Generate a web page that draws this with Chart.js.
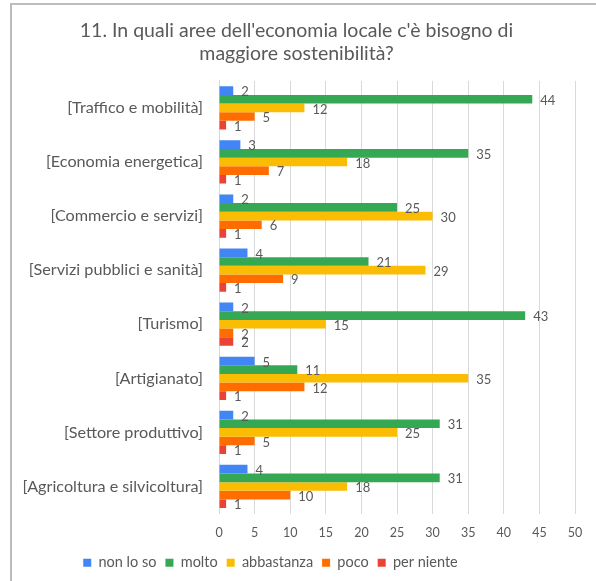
<!DOCTYPE html>
<html>
<head>
<meta charset="utf-8">
<script src="https://cdn.jsdelivr.net/npm/chart.js@4/dist/chart.umd.min.js"></script>
<style>
    html, body { margin: 0; padding: 0; background: #fff; }
    #wrap { position: relative; width: 596px; height: 581px; overflow: hidden; }
    #frame {
        position: absolute; left: 10px; top: 3px; right: -10px; bottom: -10px;
        border-left: 2px solid #bdbdbd; border-top: 2px solid #bdbdbd;
    }
    #myChart { position: absolute; left: 0; top: 0; }
</style>
</head>
<body>
<div id="wrap">
    <div id="frame"></div>
    <canvas id="myChart" width="596" height="581"></canvas>
</div>
<script>
const categories = [
    '[Traffico e mobilità]',
    '[Economia energetica]',
    '[Commercio e servizi]',
    '[Servizi pubblici e sanità]',
    '[Turismo]',
    '[Artigianato]',
    '[Settore produttivo]',
    '[Agricoltura e silvicoltura]'
];
const seriesNames = ['non lo so', 'molto', 'abbastanza', 'poco', 'per niente'];
const nonLoSo    = [2, 3, 2, 4, 2, 5, 2, 4];
const molto      = [44, 35, 25, 21, 43, 11, 31, 31];
const abbastanza = [12, 18, 30, 29, 15, 35, 25, 18];
const poco       = [5, 7, 6, 9, 2, 12, 5, 10];
const perNiente  = [1, 1, 1, 1, 2, 1, 1, 1];
const xMax = 50;
const xStep = 5;

const colors = ['#4285f4', '#34a853', '#fbbc04', '#ff6d01', '#ea4335'];
const textGray = '#595959';
const font = "Lato, 'Liberation Sans', sans-serif";

// value labels to the right of each bar
const barLabels = {
    id: 'barLabels',
    afterDatasetsDraw(chart) {
        const ctx = chart.ctx;
        ctx.save();
        ctx.font = '13px ' + font;
        ctx.fillStyle = textGray;
        ctx.textAlign = 'left';
        ctx.textBaseline = 'middle';
        chart.data.datasets.forEach((ds, i) => {
            chart.getDatasetMeta(i).data.forEach((bar, j) => {
                ctx.fillText(ds.data[j], bar.x + 8, bar.y + 1.5);
            });
        });
        ctx.restore();
    }
};

// nudge title right, legend left and up from the default placement
const blockShift = {
    id: 'blockShift',
    afterLayout(chart) {
        chart.titleBlock.left += 9;
        chart.titleBlock.right += 9;
        chart.legend.left -= 17;
        chart.legend.right -= 17;
        chart.legend.top -= 6;
        chart.legend.bottom -= 6;
    }
};

const ctx = document.getElementById('myChart');
const myChart = new Chart(ctx, {
    type: 'bar',
    data: {
        labels: categories,
        datasets: [nonLoSo, molto, abbastanza, poco, perNiente].map((d, i) => ({
            label: seriesNames[i],
            data: d,
            backgroundColor: colors[i],
            borderWidth: 0,
            categoryPercentage: 0.8,
            barPercentage: 1
        }))
    },
    options: {
        indexAxis: 'y',
        responsive: false,
        animation: false,
        layout: { padding: { left: 0, right: 21, top: 0, bottom: -5 } },
        scales: {
            x: {
                min: 0,
                max: xMax,
                ticks: { stepSize: xStep, color: textGray, font: { family: font, size: 12.5 }, padding: 12 },
                grid: { color: '#d9d9d9', drawTicks: false },
                border: { display: false }
            },
            y: {
                ticks: { color: textGray, font: { family: font, size: 16.2 }, padding: 16 },
                grid: { display: false, drawTicks: false },
                border: { color: '#d9d9d9' },
                afterFit(scale) { scale.width = 219; }
            }
        },
        plugins: {
            title: {
                display: true,
                text: ["11. In quali aree dell'economia locale c'è bisogno di", 'maggiore sostenibilità?'],
                color: textGray,
                font: { family: font, size: 19.5, weight: 'normal', lineHeight: 1.15 },
                padding: { top: 20, bottom: 16 }
            },
            legend: {
                position: 'bottom',
                labels: {
                    boxWidth: 8,
                    boxHeight: 8,
                    padding: 9,
                    color: textGray,
                    font: { family: font, size: 14.5 }
                }
            },
            tooltip: { enabled: false }
        }
    },
    plugins: [barLabels, blockShift]
});
</script>
</body>
</html>
